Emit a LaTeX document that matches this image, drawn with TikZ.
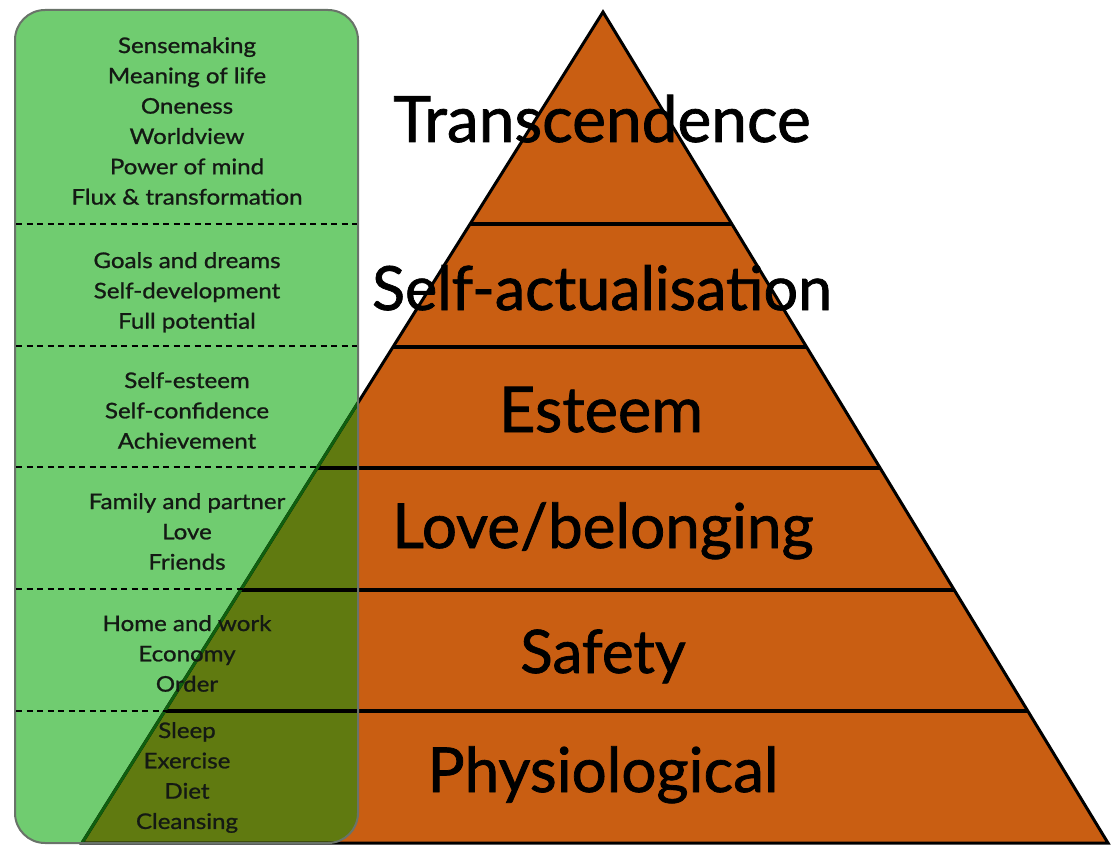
\documentclass[tikz,border=0pt]{standalone}
\usepackage{fontspec}
\setmainfont{Lato}
\newfontfamily\bigf{Lato}[FakeBold=1.2]
\newfontfamily\smallf{Lato}[FakeStretch=1.12,FakeBold=1.0]
\usetikzlibrary{calc}
\definecolor{pyr}{RGB}{201,94,18}
\definecolor{lightg}{RGB}{112,204,112}
\definecolor{oliveg}{RGB}{96,122,16}
\definecolor{edgeg}{RGB}{15,95,15}
\definecolor{boxedge}{RGB}{105,115,105}
\definecolor{txt}{RGB}{20,25,20}
\begin{document}
\begin{tikzpicture}[x=1pt,y=-1pt,
  big/.style={font=\bigf\fontsize{62}{66}\selectfont, text=black, inner sep=0pt, anchor=base},
  small/.style={font=\smallf\fontsize{21.5}{30.3}\selectfont, align=center, text=txt, inner sep=0pt, anchor=north},
  level/.style={line width=4pt, black},
  sep/.style={dash pattern=on 6pt off 4.5pt, line width=1.8pt, black},
  panel/.style={rounded corners=30pt}]
\useasboundingbox (0,0) rectangle (1112,848);
% pyramid
\coordinate (A) at (603,12);
\coordinate (BL) at (82,843);
\coordinate (BR) at (1108,843);
\coordinate (P1) at (15,10);
\coordinate (P2) at (358,843);
\fill[pyr] (A) -- (BL) -- (BR) -- cycle;
% green panel fills
\fill[lightg, panel] (P1) rectangle (P2);
\begin{scope}
  \clip (A) -- (BL) -- (BR) -- cycle;
  \fill[oliveg, panel] (P1) rectangle (P2);
\end{scope}
% level lines and outline
\foreach \y [count=\i] in {224,347,468,590,711}{
  \coordinate (L\i) at ($(A)!{(\y-12)/831}!(BL)$);
  \coordinate (R\i) at ($(A)!{(\y-12)/831}!(BR)$);
  \draw[level] (L\i) -- (R\i);
}
\draw[line width=3pt, line join=miter] (A) -- (BL) -- (BR) -- cycle;
\begin{scope}
  \clip[panel] (P1) rectangle (P2);
  \draw[edgeg, line width=3pt] (A) -- (BL);
  \draw[edgeg!60!black, line width=3pt] (BL) -- (BR);
\end{scope}
% level labels
\node[big, font=\bigf\fontsize{64}{66}\selectfont] (t1) at (602,142) {Transcendence};
\node[big, font=\bigf\fontsize{61}{66}\selectfont] (t2) at (602,310) {Self-actualisation};
\node[big, font=\bigf\fontsize{63}{66}\selectfont] (t3) at (601,432) {Esteem};
\node[big] (t4) at (603,548) {Love/belonging};
\node[big, font=\bigf\fontsize{60}{66}\selectfont] (t5) at (603,673) {Safety};
\node[big] (t6) at (603,792) {Physiological};
% panel border and separators
\draw[boxedge, line width=2pt, panel] (P1) rectangle (P2);
\foreach \y [count=\i] in {224,346,467,589,711}{
  \coordinate (dl\i) at (16,\y);
  \coordinate (dr\i) at (357,\y);
  \draw[sep] (dl\i) -- (dr\i);
}
% panel texts
\node[small] (g1) at (187,37) {Sensemaking\\Meaning of life\\Oneness\\Worldview\\Power of mind\\Flux \& transformation};
\node[small] (g2) at (187,252) {Goals and dreams\\Self-development\\Full potential};
\node[small] (g3) at (187,372) {Self-esteem\\Self-confidence\\Achievement};
\node[small] (g4) at (187,493) {Family and partner\\Love\\Friends};
\node[small] (g5) at (187,615) {Home and work\\Economy\\Order};
\node[small] (g6) at (187,722) {Sleep\\Exercise\\Diet\\Cleansing};
\end{tikzpicture}
\end{document}
